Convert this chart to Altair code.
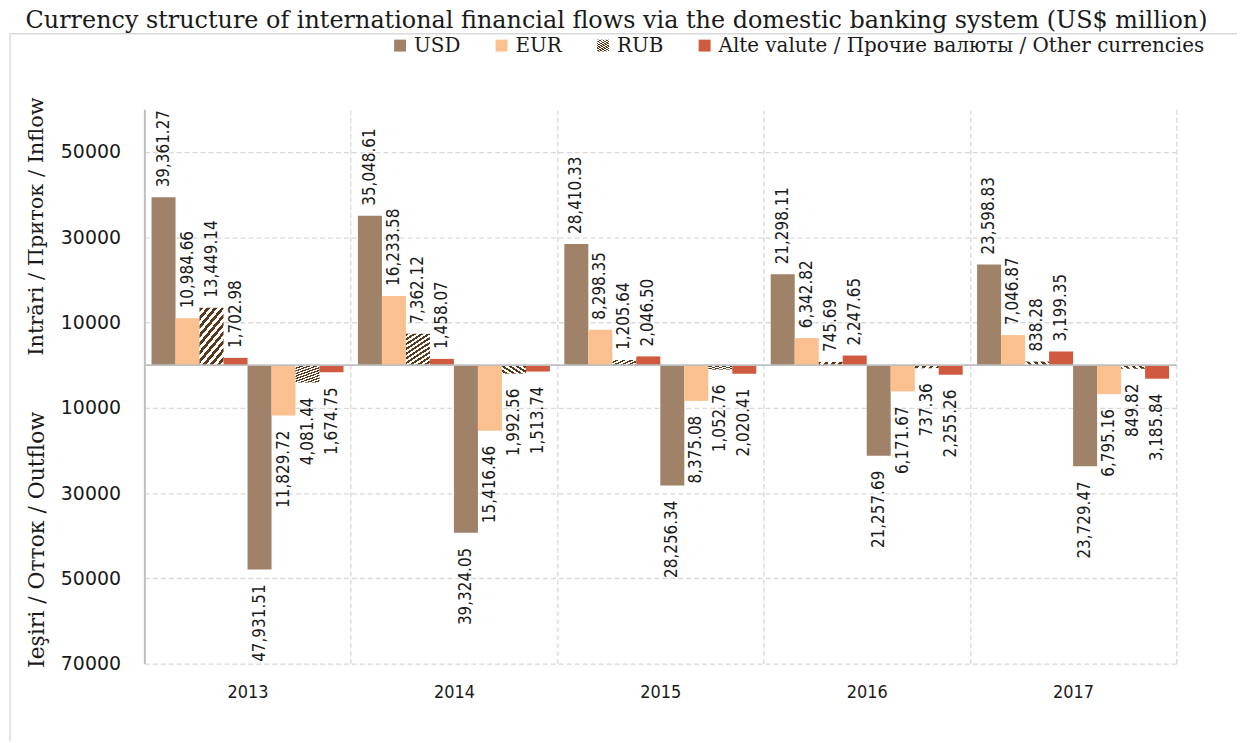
import altair as alt
import pandas as pd

years = ["2013", "2014", "2015", "2016", "2017"]
currencies = ["USD", "EUR", "RUB", "Alte valute / Прочие валюты / Other currencies"]

usd_in = [39361.27, 35048.61, 28410.33, 21298.11, 23598.83]
eur_in = [10984.66, 16233.58, 8298.35, 6342.82, 7046.87]
rub_in = [13449.14, 7362.12, 1205.64, 745.69, 838.28]
oth_in = [1702.98, 1458.07, 2046.50, 2247.65, 3199.35]

usd_out = [47931.51, 39324.05, 28256.34, 21257.69, 23729.47]
eur_out = [11829.72, 15416.46, 8375.08, 6171.67, 6795.16]
rub_out = [4081.44, 1992.56, 1052.76, 737.36, 849.82]
oth_out = [1674.75, 1513.74, 2020.41, 2255.26, 3185.84]

y_ticks = [50000, 30000, 10000, -10000, -30000, -50000, -70000]
side_titles = ["Intrări / Приток / Inflow", "Ieşiri / Отток / Outflow"]
side_pos = [32500, -41000]
side_size = [21, 22]

title_text = "Currency structure of international financial flows via the domestic banking system (US$ million)"

ins = [usd_in, eur_in, rub_in, oth_in]
outs = [usd_out, eur_out, rub_out, oth_out]
slots = [c + " in" for c in currencies] + [c + " out" for c in currencies]

rows = []
for i, yr in enumerate(years):
    for c, arr in zip(currencies, ins):
        rows.append({"year": yr, "cur": c, "slot": c + " in", "value": arr[i], "label": arr[i]})
    for c, arr in zip(currencies, outs):
        rows.append({"year": yr, "cur": c, "slot": c + " out", "value": -arr[i], "label": arr[i]})
df = pd.DataFrame(rows)

# diagonal stripe fill for RUB
N = 10
dark, light = "#5a391b", "#ffffff"
stops = []
for k in range(N):
    a, m, b = k / N, (k + 0.5) / N, (k + 1) / N
    stops += [(a, dark), (m, dark), (m, light), (b, light)]
stops_expr = ",".join("{offset:%.4f,color:'%s'}" % (o, c) for o, c in stops)
rub_fill = "{gradient:'linear',x1:0,y1:0,x2:0.6,y2:1.2,stops:[" + stops_expr + "]}"

fill_range = ["#9f8268", "#fac08f", alt.ExprRef(rub_fill), "#d05a3f"]

W, H = 1037, 557
serif = "DejaVu Serif"
cond = "DejaVu Sans Condensed, Liberation Sans Narrow, Liberation Sans"

x_axis = alt.Axis(tickBand="extent", grid=True, gridDash=[5, 3], gridColor="#d9d9d9",
                  gridWidth=1.3, domain=False, ticks=False, labelFont=cond,
                  labelFontSize=18, labelColor="#1a1a1a", labelPadding=20, labelAngle=0,
                  title=None)
y_axis = alt.Axis(values=y_ticks, labelExpr="format(abs(datum.value), 'd')",
                  grid=True, gridDash=[5, 3], gridColor="#d9d9d9", gridWidth=1.3,
                  domainColor="#bfbfbf", domainWidth=2, ticks=False,
                  labelPadding=24, labelFont="DejaVu Sans", labelFontSize=19,
                  labelColor="#1a1a1a", title=None)

x_scale = alt.Scale(paddingInner=0, paddingOuter=0)
y_scale = alt.Scale(domain=[-70000, 60000], nice=False, zero=False)

x_enc = alt.X("year:N", title=None, scale=x_scale, axis=x_axis)
xo_enc = alt.XOffset("slot:N", scale=alt.Scale(domain=slots, paddingInner=0, paddingOuter=0.3))
y_enc = alt.Y("value:Q", title=None, scale=y_scale, axis=y_axis)

bars = alt.Chart(df).mark_bar().encode(
    x=x_enc,
    xOffset=xo_enc,
    y=y_enc,
    fill=alt.Fill("cur:N", scale=alt.Scale(domain=currencies, range=fill_range),
                  legend=alt.Legend(title=None, orient="none", legendX=247, legendY=-74,
                                    direction="horizontal", symbolType="square", symbolSize=144,
                                    symbolStrokeWidth=0, labelFont=serif, labelFontSize=20,
                                    labelColor="#1a1a1a", labelLimit=0, columnPadding=31,
                                    labelOffset=4)),
)

pos_labels = alt.Chart(df).transform_filter("datum.value > 0").mark_text(
    angle=270, align="left", baseline="middle", dx=10, font=cond, fontSize=17, color="#1a1a1a"
).encode(x=x_enc, xOffset=xo_enc, y=y_enc, text=alt.Text("label:Q", format=",.2f"))

neg_labels = alt.Chart(df).transform_filter("datum.value < 0").mark_text(
    angle=270, align="right", baseline="middle", dx=-15, font=cond, fontSize=17, color="#1a1a1a"
).encode(x=x_enc, xOffset=xo_enc, y=y_enc, text=alt.Text("label:Q", format=",.2f"))

zero_rule = alt.Chart(pd.DataFrame({"value": [0]})).mark_rule(color="#bfbfbf", strokeWidth=2).encode(
    y=y_enc
)

# white cover over the unwanted top edge line of the plot area
top_cover = alt.Chart(pd.DataFrame({"a": [0]})).mark_rule(color="white", strokeWidth=3).encode(
    x=alt.value(2), x2=alt.value(W - 1), y=alt.value(0)
)

side = alt.Chart(pd.DataFrame({"t": side_titles, "value": side_pos, "s": side_size})).mark_text(
    angle=270, align="center", baseline="middle", font=serif, color="#1a1a1a"
).encode(y=y_enc, x=alt.value(-108), text="t:N",
         size=alt.Size("s:Q", scale=None, legend=None))

frame = alt.Chart(pd.DataFrame({"a": [0]})).mark_rect(
    filled=False, stroke="#d9d9d9", strokeWidth=1.5
).encode(x=alt.value(-135), x2=alt.value(1300), y=alt.value(-76), y2=alt.value(800))

chart = alt.layer(frame, bars, zero_rule, top_cover, pos_labels, neg_labels, side).properties(
    width=W, height=H,
    background="white",
    autosize=alt.AutoSizeParams(type="none"),
    padding={"left": 137, "top": 100, "right": 61, "bottom": 76},
    title=alt.TitleParams(text=title_text, font=serif, fontSize=24, fontWeight="normal",
                          color="#1a1a1a", anchor="middle", dx=-44, dy=4),
).configure_view(stroke="transparent", strokeWidth=0, strokeOpacity=0)

chart.save("out.html", embed_options={"renderer": "svg", "actions": False})
